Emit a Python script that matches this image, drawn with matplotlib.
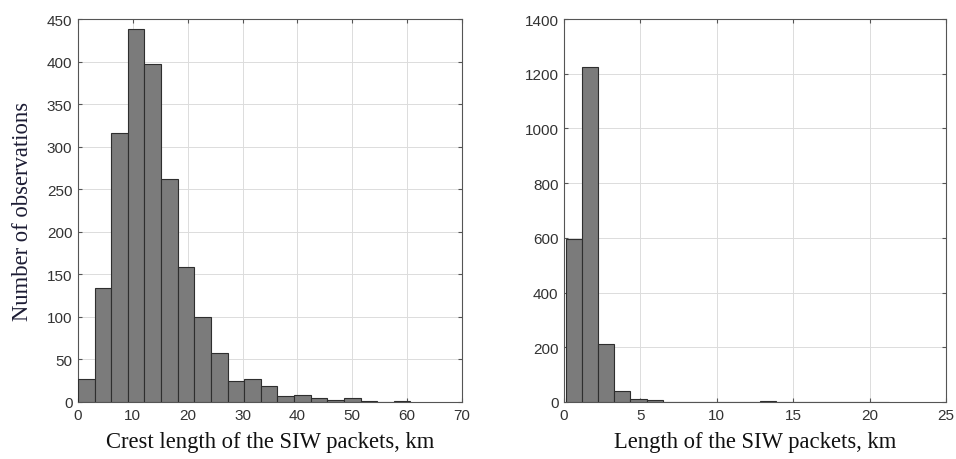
import numpy as np
import matplotlib
matplotlib.use("Agg")
import matplotlib.pyplot as plt

# Left histogram: crest length
crest_edges = np.linspace(0, 60.6, 21)
crest_counts = [27, 134, 316, 438, 397, 262, 159, 100, 58, 25,
                27, 19, 7, 8, 5, 2, 5, 1, 0, 1]

# Right histogram: packet length
len_edges = np.linspace(0.11, 21.3, 21)
len_counts = [597, 1226, 212, 39, 11, 7, 0, 0, 0, 0,
              0, 0, 2, 0, 0, 0, 0, 0, 0, 1]

left_xticks = [0, 10, 20, 30, 40, 50, 60, 70]
left_yticks = [0, 50, 100, 150, 200, 250, 300, 350, 400, 450]
right_xticks = [0, 5, 10, 15, 20, 25]
right_yticks = [0, 200, 400, 600, 800, 1000, 1200, 1400]

fig = plt.figure(figsize=(9.56, 4.6), dpi=100)
ax1 = fig.add_axes([78/956, 57/460, 384/956, 383/460])
ax2 = fig.add_axes([564/956, 57/460, 382/956, 383/460])

bar_color = "#7b7b7b"
edge_color = "#2e2e2e"
tick_font = {"family": "Liberation Sans", "size": 11}
label_font = {"family": "Liberation Serif", "size": 16.3}

def style(ax, edges, counts, xlim, ylim, xticks, yticks):
    edges = np.asarray(edges)
    ax.bar(edges[:-1], counts, width=np.diff(edges), align="edge",
           color=bar_color, edgecolor=edge_color, linewidth=0.8, zorder=3)
    ax.set_xlim(*xlim)
    ax.set_ylim(*ylim)
    ax.set_xticks(xticks)
    ax.set_yticks(yticks)
    ax.grid(True, color="#dcdcdc", linewidth=0.7, zorder=0)
    ax.set_axisbelow(True)
    ax.tick_params(direction="in", length=3, color="#555555",
                   labelcolor="#333333", top=True, right=True, pad=4)
    for lab in ax.get_xticklabels() + ax.get_yticklabels():
        lab.set_fontfamily(tick_font["family"])
        lab.set_fontsize(tick_font["size"])
    for s in ax.spines.values():
        s.set_color("#555555")
        s.set_linewidth(0.8)

style(ax1, crest_edges, crest_counts, (0, 70), (0, 450), left_xticks, left_yticks)
style(ax2, len_edges, len_counts, (0, 25), (0, 1400), right_xticks, right_yticks)

ax1.set_xlabel("Crest length of the SIW packets, km", fontfamily=label_font["family"],
               fontsize=label_font["size"], color="#111111", labelpad=7)
ax1.set_ylabel("Number of observations", fontfamily=label_font["family"],
               fontsize=label_font["size"], color="#1c1c34", labelpad=10)
ax2.set_xlabel("Length of the SIW packets, km", fontfamily=label_font["family"],
               fontsize=label_font["size"], color="#111111", labelpad=7)

fig.savefig("out.png", dpi=100, facecolor="white")
